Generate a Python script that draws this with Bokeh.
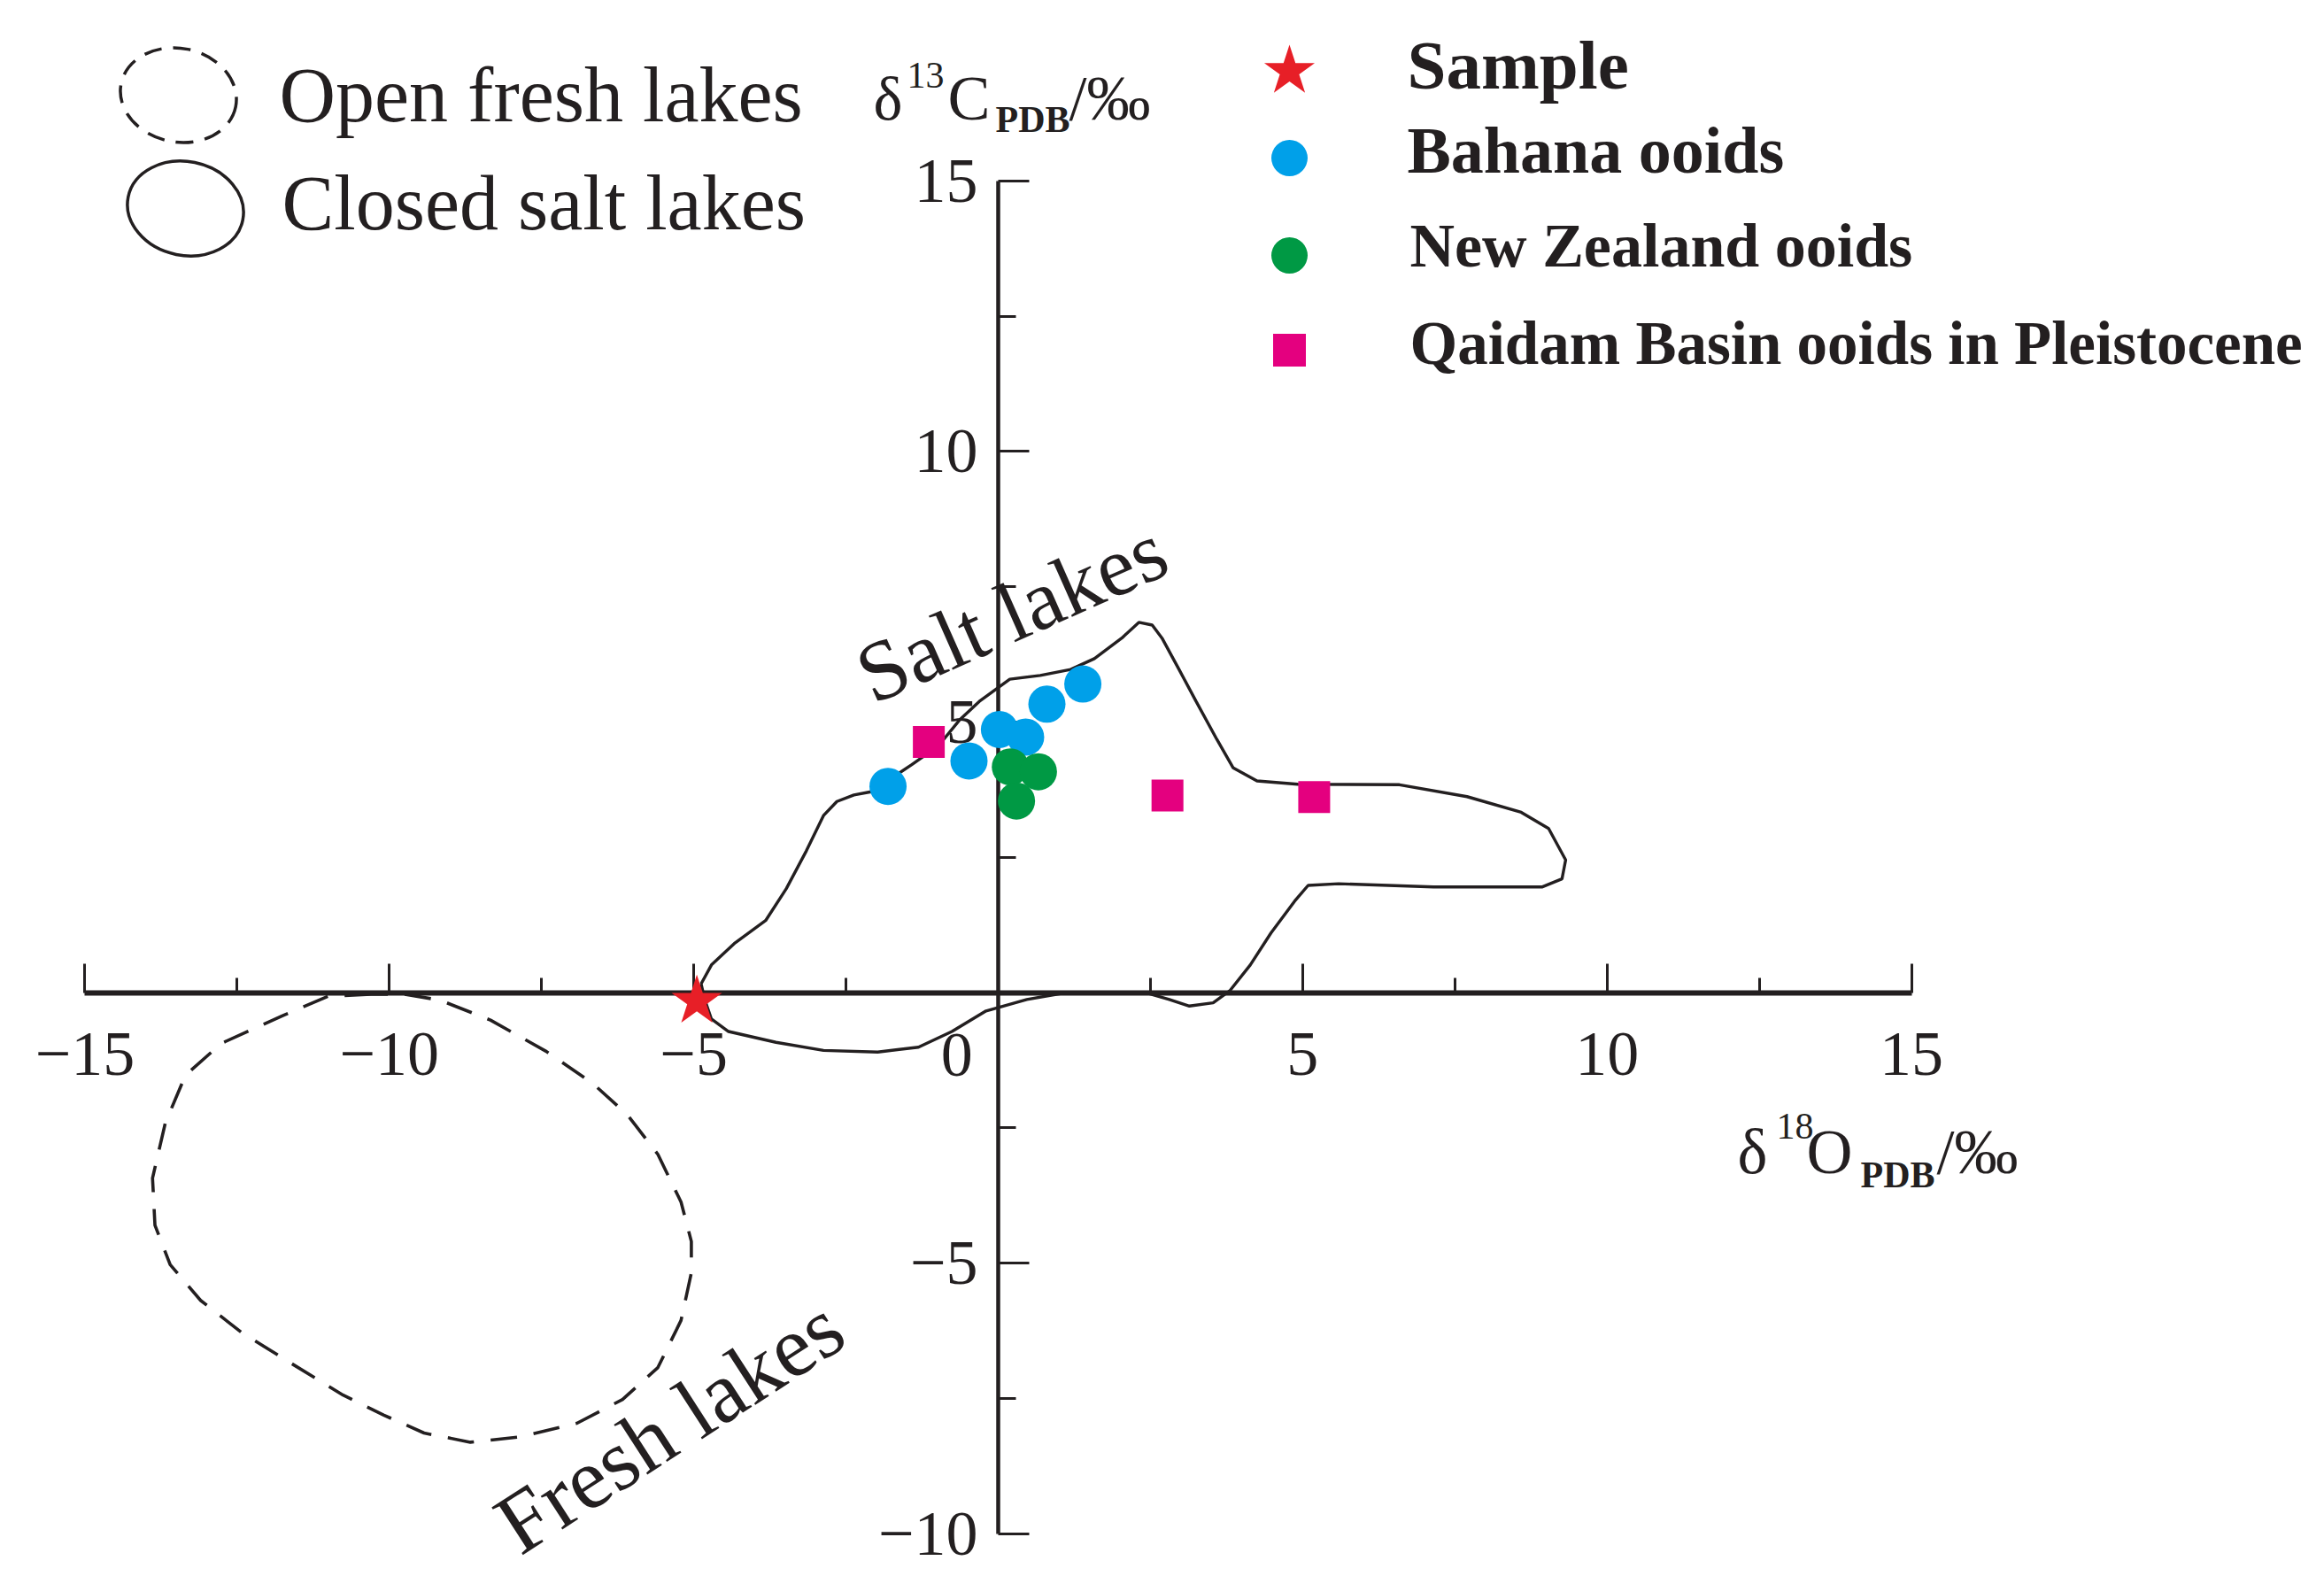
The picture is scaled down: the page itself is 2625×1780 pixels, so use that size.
from bokeh.plotting import figure
from bokeh.models import LinearAxis, FixedTicker, Range1d, ColumnDataSource
from bokeh.core.properties import value, field
from bokeh.embed import file_html
from bokeh.resources import INLINE

# ------------------------------------------------------------------ data
sample_d18O = [-4.95]
sample_d13C = [-0.16]

bahama_d18O = [-1.81, -0.48, 0.02, 0.45, 0.80, 1.39]
bahama_d13C = [3.81, 4.28, 4.86, 4.72, 5.33, 5.70]

nz_d18O = [0.20, 0.66, 0.30]
nz_d13C = [4.17, 4.08, 3.54]

qaidam_d18O = [-1.14, 2.78, 5.19]
qaidam_d13C = [4.63, 3.64, 3.61]

# outline of the closed salt lakes field (δ18O, δ13C)
salt_lake_x = [-4.88, -4.71, -4.32, -3.82, -3.48, -3.15, -2.87, -2.65, -2.37, -2.09,
               -1.42, -0.98, -0.64, -0.31, -0.03, 0.19, 0.69, 1.19, 1.58, 2.03,
               2.31, 2.53, 2.69, 2.97, 3.25, 3.59, 3.86, 4.25, 4.92, 6.59,
               7.70, 8.59, 9.04, 9.32, 9.26, 8.93, 7.15, 5.59, 5.09, 4.87,
               4.48, 4.14, 3.81, 3.53, 3.14, 2.81, 2.47, 2.03, 1.02, 0.47,
               -0.20, -0.76, -1.31, -1.98, -2.87, -3.65, -4.43, -4.71, -4.82, -4.88]
salt_lake_y = [0.16, 0.51, 0.92, 1.33, 1.92, 2.62, 3.27, 3.53, 3.65, 3.71,
               4.21, 4.56, 5.03, 5.38, 5.61, 5.79, 5.86, 5.97, 6.17, 6.55,
               6.84, 6.79, 6.55, 5.97, 5.38, 4.68, 4.15, 3.91, 3.85, 3.84,
               3.62, 3.33, 3.03, 2.45, 2.10, 1.95, 1.95, 2.01, 1.98, 1.69,
               1.10, 0.51, 0.04, -0.19, -0.25, -0.13, -0.02, -0.02, -0.02, -0.13,
               -0.34, -0.72, -1.01, -1.10, -1.07, -0.92, -0.72, -0.49, -0.13, 0.16]

# outline of the open fresh lakes field
fresh_lake_x = [-10.30, -11.01, -11.76, -12.76, -13.35, -13.68, -13.89, -13.85, -13.60, -13.10,
                -12.43, -11.60, -10.76, -10.09, -9.43, -8.67, -7.84, -6.92, -6.17, -5.59,
                -5.21, -5.04, -5.04, -5.21, -5.59, -6.09, -6.67, -7.42, -8.34, -9.17,
                -9.76, -10.30]
fresh_lake_y = [-0.03, -0.07, -0.43, -0.94, -1.53, -2.41, -3.43, -4.30, -5.03, -5.69,
                -6.28, -6.86, -7.44, -7.81, -8.14, -8.31, -8.21, -7.96, -7.52, -6.93,
                -6.06, -5.18, -4.60, -3.87, -2.99, -2.26, -1.67, -1.09, -0.51, -0.14,
                -0.03, -0.03]

x_major_ticks = [-15, -10, -5, 0, 5, 10, 15]
x_minor_ticks = [-12.5, -7.5, -2.5, 2.5, 7.5, 12.5]
y_major_ticks = [-10, -5, 0, 5, 10, 15]
y_minor_ticks = [-7.5, -2.5, 2.5, 7.5, 12.5]

legend_labels = ["Sample", "Bahana ooids", "New Zealand ooids",
                 "Qaidam Basin ooids in Pleistocene"]
region_labels = ["Open fresh lakes", "Closed salt lakes"]
field_labels = ["Salt lakes", "Fresh lakes"]
ZERO_LABEL_X = -0.68

# ------------------------------------------------------------------ layout
INK = "#231f20"
RED = "#e71f27"
BLUE = "#00a0e9"
GREEN = "#009944"
MAGENTA = "#e4007f"
SERIF = "Liberation Serif"

W, H = 2620, 1780
X0_PX, X_SCALE = 1127.0, 68.77   # page pixel of δ18O = 0, px per unit
Y0_PX, Y_SCALE = 1120.5, 61.12   # page pixel of δ13C = 0, px per unit
BASELINE_FIX = 0.37              # alphabetic baseline correction, fraction of font size


def px_x(px):
    return (px - X0_PX) / X_SCALE


def px_y(py):
    return (Y0_PX - py) / Y_SCALE


def base_y(py, size):
    """data y for a text whose alphabetic baseline should sit at page pixel py"""
    return px_y(py - BASELINE_FIX * size)


x_range = Range1d(px_x(0), px_x(W))
y_range = Range1d(px_y(H), px_y(0))

p = figure(width=W, height=H, x_range=x_range, y_range=y_range,
           output_backend="svg", toolbar_location=None,
           x_axis_location=None, y_axis_location=None,
           min_border=0, outline_line_color=None,
           background_fill_color="white", border_fill_color="white")
p.grid.grid_line_color = None


def minus(v):
    return ("\u2212" + str(abs(v))) if v < 0 else str(v)


xaxis = LinearAxis(
    fixed_location=0, bounds=(x_major_ticks[0], x_major_ticks[-1]),
    ticker=FixedTicker(ticks=x_major_ticks, minor_ticks=x_minor_ticks),
    major_tick_in=33, major_tick_out=0, minor_tick_in=17, minor_tick_out=0,
    axis_line_width=6, major_tick_line_width=3, minor_tick_line_width=3,
    axis_line_color=INK, major_tick_line_color=INK, minor_tick_line_color=INK,
    major_label_text_font=SERIF, major_label_text_font_size="72px",
    major_label_text_color=INK, major_label_standoff=46,
    major_label_overrides={v: ("" if v == 0 else minus(v)) for v in x_major_ticks})
p.add_layout(xaxis, "below")

yaxis = LinearAxis(
    fixed_location=0, bounds=(y_major_ticks[0], y_major_ticks[-1]),
    ticker=FixedTicker(ticks=y_major_ticks, minor_ticks=y_minor_ticks),
    major_tick_in=35, major_tick_out=0, minor_tick_in=20, minor_tick_out=0,
    axis_line_width=4.5, major_tick_line_width=3, minor_tick_line_width=3,
    axis_line_color=INK, major_tick_line_color=INK, minor_tick_line_color=INK,
    major_label_text_font=SERIF, major_label_text_font_size="72px",
    major_label_text_color=INK, major_label_standoff=23,
    major_label_overrides={v: ("" if v == 0 else minus(v)) for v in y_major_ticks})
p.add_layout(yaxis, "left")

# shared zero label, left of the vertical axis
p.text(x=[ZERO_LABEL_X], y=[0], text=["0"], y_offset=70,
       text_font=value(SERIF), text_font_size=value("72px"), text_color=INK,
       text_align="center", text_baseline="alphabetic")

# ------------------------------------------------------------------ fields
p.line(salt_lake_x, salt_lake_y, line_color=INK, line_width=3.4)
p.line(fresh_lake_x, fresh_lake_y, line_color=INK, line_width=3.6, line_dash="30 19")

p.text(x=[0.22], y=[7.03], text=[field_labels[0]], angle=0.417,
       text_font=value(SERIF), text_font_size=value("96px"), text_color=INK,
       text_align="center", text_baseline="alphabetic")
p.text(x=[-5.40], y=[-8.00], text=[field_labels[1]], angle=0.574,
       text_font=value(SERIF), text_font_size=value("98px"), text_color=INK,
       text_align="center", text_baseline="alphabetic")

# ------------------------------------------------------------------ points
p.scatter(bahama_d18O, bahama_d13C, marker="circle", size=42,
          fill_color=BLUE, line_color=None, level="overlay")
p.scatter(nz_d18O, nz_d13C, marker="circle", size=42,
          fill_color=GREEN, line_color=None, level="overlay")
p.scatter(qaidam_d18O, qaidam_d13C, marker="square", size=36,
          fill_color=MAGENTA, line_color=None, level="overlay")
p.scatter(sample_d18O, sample_d13C, marker="star", size=60,
          fill_color=RED, line_color=None, level="overlay")


# ------------------------------------------------------------------ texts
def texts(parts, bold=False):
    """parts: (left px, baseline px, text, font px)"""
    src = ColumnDataSource(dict(
        x=[px_x(t[0]) for t in parts],
        y=[base_y(t[1], t[3]) for t in parts],
        text=[t[2] for t in parts],
        fs=["%dpx" % t[3] for t in parts]))
    p.text(x="x", y="y", text="text", source=src,
           text_font=value(SERIF), text_font_size=field("fs"),
           text_font_style="bold" if bold else "normal", text_color=INK,
           text_align="left", text_baseline="alphabetic")


# axis titles: δ13C_PDB/‰ and δ18O_PDB/‰
texts([(986, 137, "\u03b4", 70), (1024, 100, "13", 42), (1070, 137, "C", 72),
       (1207, 137, "/\u2030", 72)])
texts([(1962, 1327, "\u03b4", 72), (2006, 1287, "18", 42), (2040, 1327, "O", 72),
       (2187, 1327, "/\u2030", 72)])
texts([(1124, 150, "PDB", 42), (2101, 1342, "PDB", 42)], bold=True)

# left legend: field outlines
p.ellipse(x=[px_x(201)], y=[px_y(107)], width=132, height=106,
          width_units="screen", height_units="screen", angle=-0.2,
          fill_color=None, line_color=INK, line_width=3.5, line_dash="20 13")
p.ellipse(x=[px_x(209)], y=[px_y(235)], width=132, height=106,
          width_units="screen", height_units="screen", angle=-0.2,
          fill_color=None, line_color=INK, line_width=3.5)
texts([(315, 140, region_labels[0], 88), (318, 262, region_labels[1], 88)])

# right legend: point symbols
leg_x = px_x(1456)
p.scatter([leg_x], [px_y(80)], marker="star", size=60, fill_color=RED, line_color=None)
p.scatter([leg_x], [px_y(178)], marker="circle", size=41, fill_color=BLUE, line_color=None)
p.scatter([leg_x], [px_y(288)], marker="circle", size=41, fill_color=GREEN, line_color=None)
p.scatter([leg_x], [px_y(395)], marker="square", size=37, fill_color=MAGENTA, line_color=None)
texts([(1589, 102, legend_labels[0], 79), (1589, 197, legend_labels[1], 74),
       (1592, 303, legend_labels[2], 70), (1592, 413, legend_labels[3], 69)], bold=True)

open("out.html", "w").write(file_html(p, INLINE))
